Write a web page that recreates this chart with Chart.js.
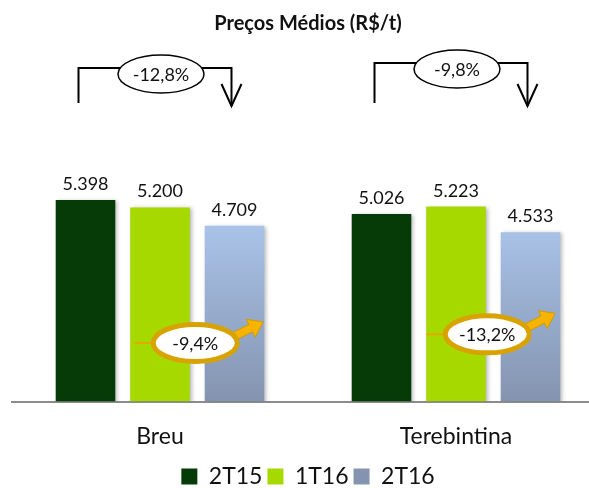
<!DOCTYPE html>
<html lang="pt-BR">
<head>
<meta charset="utf-8">
<title>Preços Médios (R$/t)</title>
<script src="https://cdn.jsdelivr.net/npm/chart.js@4.4.1/dist/chart.umd.min.js"></script>
<style>
  html, body { margin: 0; padding: 0; background: #fff; overflow: hidden; }
  #grafico { display: block; }
</style>
</head>
<body>
<canvas id="grafico" width="604" height="498"></canvas>
<script>
// Dados do gráfico
const categorias = ['Breu', 'Terebintina'];
const series = ['2T15', '1T16', '2T16'];
const valores2T15 = [5398, 5026];
const valores1T16 = [5200, 5223];
const valores2T16 = [4709, 4533];
const variacaoAnual = ['-12,8%', '-9,8%'];       // 2T16 vs 2T15
const variacaoTrimestral = ['-9,4%', '-13,2%'];  // 2T16 vs 1T16

// Posição das anotações (decoração, não dados)
const topoColchete = [68, 63];
const alturaSetaLaranja = [1570, 1800]; // em unidades do eixo y

const FONTE = 'Lato, "Open Sans", sans-serif';

function formatar(v) {
    return v.toString().replace(/\B(?=(\d{3})+(?!\d))/g, '.');
}

function corAzul(context) {
    const chart = context.chart;
    const area = chart.chartArea;
    if (!area || context.type !== 'data') return '#9fb2d4';
    const y = chart.scales.y;
    const g = chart.ctx.createLinearGradient(0, y.getPixelForValue(Math.max(...valores2T16)), 0, area.bottom);
    g.addColorStop(0, '#a9c3e8');
    g.addColorStop(1, '#8494b0');
    return g;
}

// Sombra leve nas barras + rótulos de valor
const rotulos = {
    id: 'rotulos',
    beforeDatasetsDraw(chart) {
        const ctx = chart.ctx;
        ctx.save();
        ctx.shadowColor = 'rgba(0,0,0,0.28)';
        ctx.shadowBlur = 4;
        ctx.shadowOffsetX = 2;
        ctx.shadowOffsetY = 1;
    },
    afterDatasetsDraw(chart) {
        const ctx = chart.ctx;
        ctx.restore();
        ctx.save();
        ctx.font = '18px ' + FONTE;
        ctx.fillStyle = '#111';
        ctx.textAlign = 'center';
        ctx.textBaseline = 'alphabetic';
        chart.data.datasets.forEach((ds, di) => {
            chart.getDatasetMeta(di).data.forEach((bar, i) => {
                ctx.fillText(formatar(ds.data[i]), bar.x, bar.y - 10);
            });
        });
        ctx.restore();
    }
};

function setaGorda(ctx, sx, sy, tx, ty) {
    const dx = tx - sx, dy = ty - sy;
    const len = Math.hypot(dx, dy);
    const ux = dx / len, uy = dy / len;
    const nx = -uy, ny = ux;
    const cab = 14, meia = 4, meiaCab = 10;
    const bx = tx - ux * cab, by = ty - uy * cab;
    ctx.beginPath();
    ctx.moveTo(sx + nx * meia, sy + ny * meia);
    ctx.lineTo(bx + nx * meia, by + ny * meia);
    ctx.lineTo(bx + nx * meiaCab, by + ny * meiaCab);
    ctx.lineTo(tx, ty);
    ctx.lineTo(bx - nx * meiaCab, by - ny * meiaCab);
    ctx.lineTo(bx - nx * meia, by - ny * meia);
    ctx.lineTo(sx - nx * meia, sy - ny * meia);
    ctx.closePath();
    ctx.fillStyle = '#f6b400';
    ctx.fill();
    ctx.lineWidth = 1;
    ctx.strokeStyle = '#d39a00';
    ctx.stroke();
}

const anotacoes = {
    id: 'anotacoes',
    afterDraw(chart) {
        const ctx = chart.ctx;
        const m0 = chart.getDatasetMeta(0);
        const m1 = chart.getDatasetMeta(1);
        const m2 = chart.getDatasetMeta(2);
        const yScale = chart.scales.y;
        const base = chart.chartArea.top;

        categorias.forEach((c, i) => {
            const b0 = m0.data[i], b1 = m1.data[i], b2 = m2.data[i];

            // colchete com seta (2T15 -> 2T16)
            const lx = b0.x - 7, rx = b2.x - 3, topo = topoColchete[i];
            const ponta = base + 3;
            ctx.save();
            ctx.strokeStyle = '#000';
            ctx.lineWidth = 2;
            ctx.beginPath();
            ctx.moveTo(lx, base);
            ctx.lineTo(lx, topo);
            ctx.lineTo(rx, topo);
            ctx.lineTo(rx, ponta);
            ctx.stroke();
            ctx.beginPath();
            ctx.moveTo(rx - 10, ponta - 22);
            ctx.lineTo(rx, ponta);
            ctx.lineTo(rx + 10, ponta - 22);
            ctx.stroke();

            const ex = b1.x + 1, ey = topo + 6;
            ctx.beginPath();
            ctx.ellipse(ex, ey, 43, 19, 0, 0, Math.PI * 2);
            ctx.fillStyle = '#fff';
            ctx.fill();
            ctx.lineWidth = 1.5;
            ctx.stroke();
            ctx.fillStyle = '#111';
            ctx.font = '18px ' + FONTE;
            ctx.textAlign = 'center';
            ctx.textBaseline = 'middle';
            ctx.fillText(variacaoAnual[i], ex, ey + 1);
            ctx.restore();

            // seta laranja (1T16 -> 2T16)
            const cx = (b1.x + b2.x) / 2 - 2 - i * 4;
            const cy = yScale.getPixelForValue(alturaSetaLaranja[i]);
            ctx.save();
            ctx.strokeStyle = '#e2aa00';
            ctx.lineWidth = 2;
            ctx.beginPath();
            ctx.moveTo(cx - 61, cy);
            ctx.lineTo(cx - 42, cy);
            ctx.stroke();
            setaGorda(ctx, cx + 36, cy - 5, cx + 68, cy - 21);
            ctx.beginPath();
            ctx.ellipse(cx, cy, 42, 18.5, 0, 0, Math.PI * 2);
            ctx.fillStyle = '#fff';
            ctx.fill();
            ctx.lineWidth = 5;
            ctx.strokeStyle = '#d8a300';
            ctx.stroke();
            ctx.fillStyle = '#111';
            ctx.font = '18px ' + FONTE;
            ctx.textAlign = 'center';
            ctx.textBaseline = 'middle';
            ctx.fillText(variacaoTrimestral[i], cx, cy + 1);
            ctx.restore();
        });
    }
};

const ctx = document.getElementById('grafico').getContext('2d');
const grafico = new Chart(ctx, {
    type: 'bar',
    data: {
        labels: categorias,
        datasets: [
            { label: series[0], data: valores2T15, backgroundColor: '#063a06' },
            { label: series[1], data: valores1T16, backgroundColor: '#a6d900' },
            { label: series[2], data: valores2T16, backgroundColor: corAzul }
        ]
    },
    options: {
        responsive: false,
        animation: false,
        categoryPercentage: 0.755,
        barPercentage: 0.8,
        layout: { padding: { left: 12, right: 0, top: 0, bottom: 0 } },
        scales: {
            x: {
                grid: { display: false, drawTicks: false },
                border: { display: true, color: '#8c8c8c', width: 2 },
                ticks: { color: '#111', font: { family: FONTE, size: 23 }, padding: 21 },
                afterFit(scale) { scale.height = 58.5; }
            },
            y: { display: false, min: 0, max: 8000 }
        },
        plugins: {
            title: {
                display: true,
                text: 'Preços Médios (R$/t)',
                color: '#111',
                font: { family: FONTE, size: 20, weight: 'bold' },
                padding: { top: 12, bottom: 67 }
            },
            legend: {
                position: 'bottom',
                labels: {
                    color: '#111',
                    font: { family: FONTE, size: 23 },
                    boxWidth: 16,
                    boxHeight: 16,
                    padding: 5
                }
            },
            tooltip: { enabled: false }
        }
    },
    plugins: [rotulos, anotacoes]
});
</script>
</body>
</html>
